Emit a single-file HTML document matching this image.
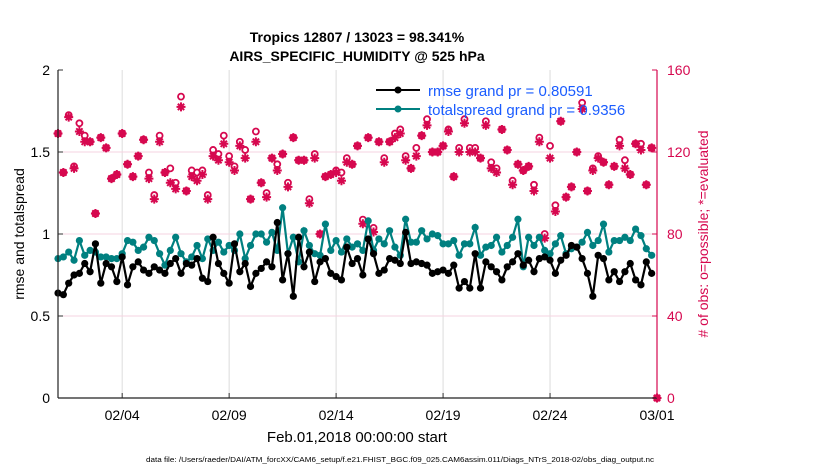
<!DOCTYPE html>
<html><head><meta charset="utf-8">
<style>
body{margin:0;background:#fff;}
svg{display:block;font-family:"Liberation Sans",sans-serif;}
</style></head>
<body>
<svg id="chart" width="830" height="470" viewBox="0 0 830 470">
<text x="357" y="42" text-anchor="middle" font-size="14" font-weight="bold">Tropics 12807 / 13023 = 98.341%</text>
<text x="357" y="61" text-anchor="middle" font-size="14" font-weight="bold">AIRS_SPECIFIC_HUMIDITY @ 525 hPa</text>
<g id="grid"></g>
<g id="obs"></g>
<g id="lines"></g>
<g id="axes"></g>
<text transform="translate(24,234) rotate(-90)" text-anchor="middle" font-size="14">rmse and totalspread</text>
<text transform="translate(708,234) rotate(-90)" text-anchor="middle" font-size="14" fill="#d6084f"># of obs: o=possible; *=evaluated</text>
<text x="357" y="442" text-anchor="middle" font-size="15">Feb.01,2018 00:00:00 start</text>
<text x="146" y="462" font-size="7" textLength="508" lengthAdjust="spacingAndGlyphs">data file: /Users/raeder/DAI/ATM_forcXX/CAM6_setup/f.e21.FHIST_BGC.f09_025.CAM6assim.011/Diags_NTrS_2018-02/obs_diag_output.nc</text>
<g>
<line x1="376" y1="90" x2="420" y2="90" stroke="#000" stroke-width="2"/><circle cx="398" cy="90" r="3.5" fill="#000"/>
<text x="428" y="96" font-size="15" fill="#1a5cff">rmse grand pr = 0.80591</text>
<line x1="376" y1="109" x2="420" y2="109" stroke="#008080" stroke-width="2"/><circle cx="398" cy="109" r="3.5" fill="#008080"/>
<text x="428" y="115" font-size="15" fill="#1a5cff">totalspread grand pr = 0.9356</text>
</g>
</svg>
<script>
const rmse=[0.64,0.63,0.70,0.75,0.76,0.82,0.77,0.94,0.70,0.82,0.80,0.71,0.86,0.69,0.80,0.83,0.78,0.76,0.80,0.78,0.76,0.82,0.85,0.76,0.82,0.81,0.85,0.73,0.71,0.98,0.82,0.76,0.70,0.94,0.77,0.82,0.68,0.76,0.79,0.83,
0.80,1.07,0.72,0.88,0.62,0.98,0.80,0.89,0.71,0.83,0.85,0.76,0.74,0.72,0.92,0.82,0.85,0.75,0.97,0.88,0.76,0.78,0.85,0.84,0.82,1.01,0.82,0.83,0.82,0.81,0.76,0.77,0.78,0.76,0.81,0.67,0.71,
0.67,0.88,0.67,0.83,0.80,0.77,0.72,0.80,0.83,0.88,0.81,0.84,0.77,0.85,0.86,0.84,0.76,0.84,0.87,0.93,0.92,0.85,0.76,0.62,0.87,0.85,0.72,0.77,0.71,0.77,0.82,0.72,0.69,0.83,0.76,null];
const spread=[0.85,0.86,0.89,0.84,0.96,0.87,0.90,0.89,0.86,0.86,0.85,0.85,0.88,0.96,0.95,0.90,0.92,0.98,0.96,0.88,0.81,0.90,0.98,0.88,0.83,0.86,0.93,0.85,0.97,0.90,0.95,0.89,0.93,0.90,1.00,0.85,0.93,1.00,1.00,0.95,
1.01,0.90,1.16,0.88,0.98,0.83,1.02,0.93,0.88,0.87,1.06,0.90,0.96,0.89,0.97,0.92,0.94,0.90,1.08,0.90,0.97,0.94,1.02,0.92,0.87,1.09,0.95,0.95,1.02,0.97,1.00,0.99,0.94,0.94,0.96,0.87,0.94,
0.94,1.04,0.87,0.92,0.93,0.98,0.89,0.93,0.98,1.09,0.80,0.98,0.93,0.98,0.90,0.88,0.94,0.99,0.88,0.91,0.92,0.95,1.01,0.93,0.96,1.06,0.89,0.96,0.96,0.98,0.96,1.03,0.99,0.91,0.87,null];
const evaluated=[129,110,137,112,130,125,125,90,127,122,107,109,129,114,108,118,126,107,97,125,110,105,102,142,101,108,106,109,97,118,116,124,115,111,123,117,97,125,105,98,
117,111,119,103,127,116,116,95,117,80,108,109,110,106,115,114,123,85,127,81,125,115,125,127,129,116,112,118,128,133,120,120,123,130,108,120,134,
120,120,117,133,112,110,131,121,104,114,111,113,101,125,78,117,91,135,98,103,120,141,101,111,117,115,104,113,123,112,109,124,121,104,122,0];
const possible=[129,110,138,113,134,128,125,90,127,122,107,109,129,114,108,118,126,110,99,128,110,112,105,147,101,111,110,111,99,121,119,128,118,113,125,121,97,130,105,100,
117,114,119,105,127,116,116,97,119,80,108,109,111,110,117,114,123,87,127,83,125,117,125,129,131,118,112,122,128,136,120,120,123,131,108,122,136,
122,122,117,135,115,112,131,121,106,114,111,113,104,127,80,123,94,135,98,103,120,144,101,112,118,115,104,113,126,116,109,124,124,104,122,0];
const xTicks=["02/04","02/09","02/14","02/19","02/24","03/01"];
const xTickDays=[3,8,13,18,23,28];
const yLeftTicks=[0,0.5,1,1.5,2];
const yRightTicks=[0,40,80,120,160];

const X0=58,X1=657,Y0=398,Y1=70,DAYS=28;
const xs=d=>X0+(X1-X0)*d/DAYS;
const xi=i=>xs(i*0.25);
const yl=v=>Y0-(Y0-Y1)*v/2;
const yr=v=>Y0-(Y0-Y1)*v/160;
const NS="http://www.w3.org/2000/svg";
function mk(parent,tag,attrs){const e=document.createElementNS(NS,tag);for(const k in attrs)e.setAttribute(k,attrs[k]);parent.appendChild(e);return e;}
const grid=document.getElementById('grid'),axes=document.getElementById('axes'),obs=document.getElementById('obs'),lines=document.getElementById('lines');
const PINK="#d6084f";
xTickDays.forEach((d,i)=>{
  if(d<DAYS){const g=mk(grid,'line',{x1:xs(d),x2:xs(d),y1:Y1,y2:Y0,stroke:'#dcdcdc','stroke-width':1});
  
  }
  mk(axes,'line',{x1:xs(d),x2:xs(d),y1:Y0,y2:Y0-5,stroke:'#333'});
  const t=mk(axes,'text',{x:xs(d),y:Y0+22,'text-anchor':'middle','font-size':14});
  t.textContent=xTicks[i];
  
  
});
yRightTicks.forEach(v=>{
  if(v>0&&v<160){const g=mk(grid,'line',{x1:X0,x2:X1,y1:yr(v),y2:yr(v),stroke:'#f6d3e0','stroke-width':1});
  
  }
  mk(axes,'line',{x1:X1,x2:X1-5,y1:yr(v),y2:yr(v),stroke:PINK});
  const t=mk(axes,'text',{x:X1+10,y:yr(v)+5,'font-size':14,fill:PINK});
  t.textContent=v;
  
  
});
yLeftTicks.forEach(v=>{
  mk(axes,'line',{x1:X0,x2:X0+5,y1:yl(v),y2:yl(v),stroke:'#333'});
  const t=mk(axes,'text',{x:X0-8,y:yl(v)+5,'font-size':14,'text-anchor':'end'});
  t.textContent=v;
  
  
});
mk(axes,'line',{x1:X0,x2:X0,y1:Y1,y2:Y0,stroke:'#222','stroke-width':1.2});
mk(axes,'line',{x1:X0,x2:X1,y1:Y0,y2:Y0,stroke:'#222','stroke-width':1.2});
mk(axes,'line',{x1:X1,x2:X1,y1:Y1,y2:Y0,stroke:PINK,'stroke-width':1.2});

function star(cx,cy){
  const s=4.5;
  mk(obs,'path',{d:`M${cx-s} ${cy}H${cx+s}M${cx} ${cy-s}V${cy+s}M${cx-s*0.7} ${cy-s*0.7}L${cx+s*0.7} ${cy+s*0.7}M${cx-s*0.7} ${cy+s*0.7}L${cx+s*0.7} ${cy-s*0.7}`,stroke:PINK,'stroke-width':2,fill:'none'});
}
possible.forEach((v,i)=>{
  const c=mk(obs,'circle',{cx:xi(i),cy:yr(v),r:3,fill:'#fff',stroke:PINK,'stroke-width':1.8});
  
  
});
evaluated.forEach((v,i)=>{star(xi(i),yr(v));});

function series(arr,color,name){
  let d='';
  arr.forEach((v,i)=>{if(v!==null)d+=(d?'L':'M')+xi(i).toFixed(1)+' '+yl(v).toFixed(1);});
  const p=mk(lines,'path',{d:d,stroke:color,'stroke-width':2.2,fill:'none'});
  
  
  arr.forEach((v,i)=>{if(v===null)return;
    const c=mk(lines,'circle',{cx:xi(i),cy:yl(v),r:3.6,fill:color});
    
    
  });
}
series(spread,'#008080','totalspread');
series(rmse,'#000000','rmse');
</script>
</body></html>
